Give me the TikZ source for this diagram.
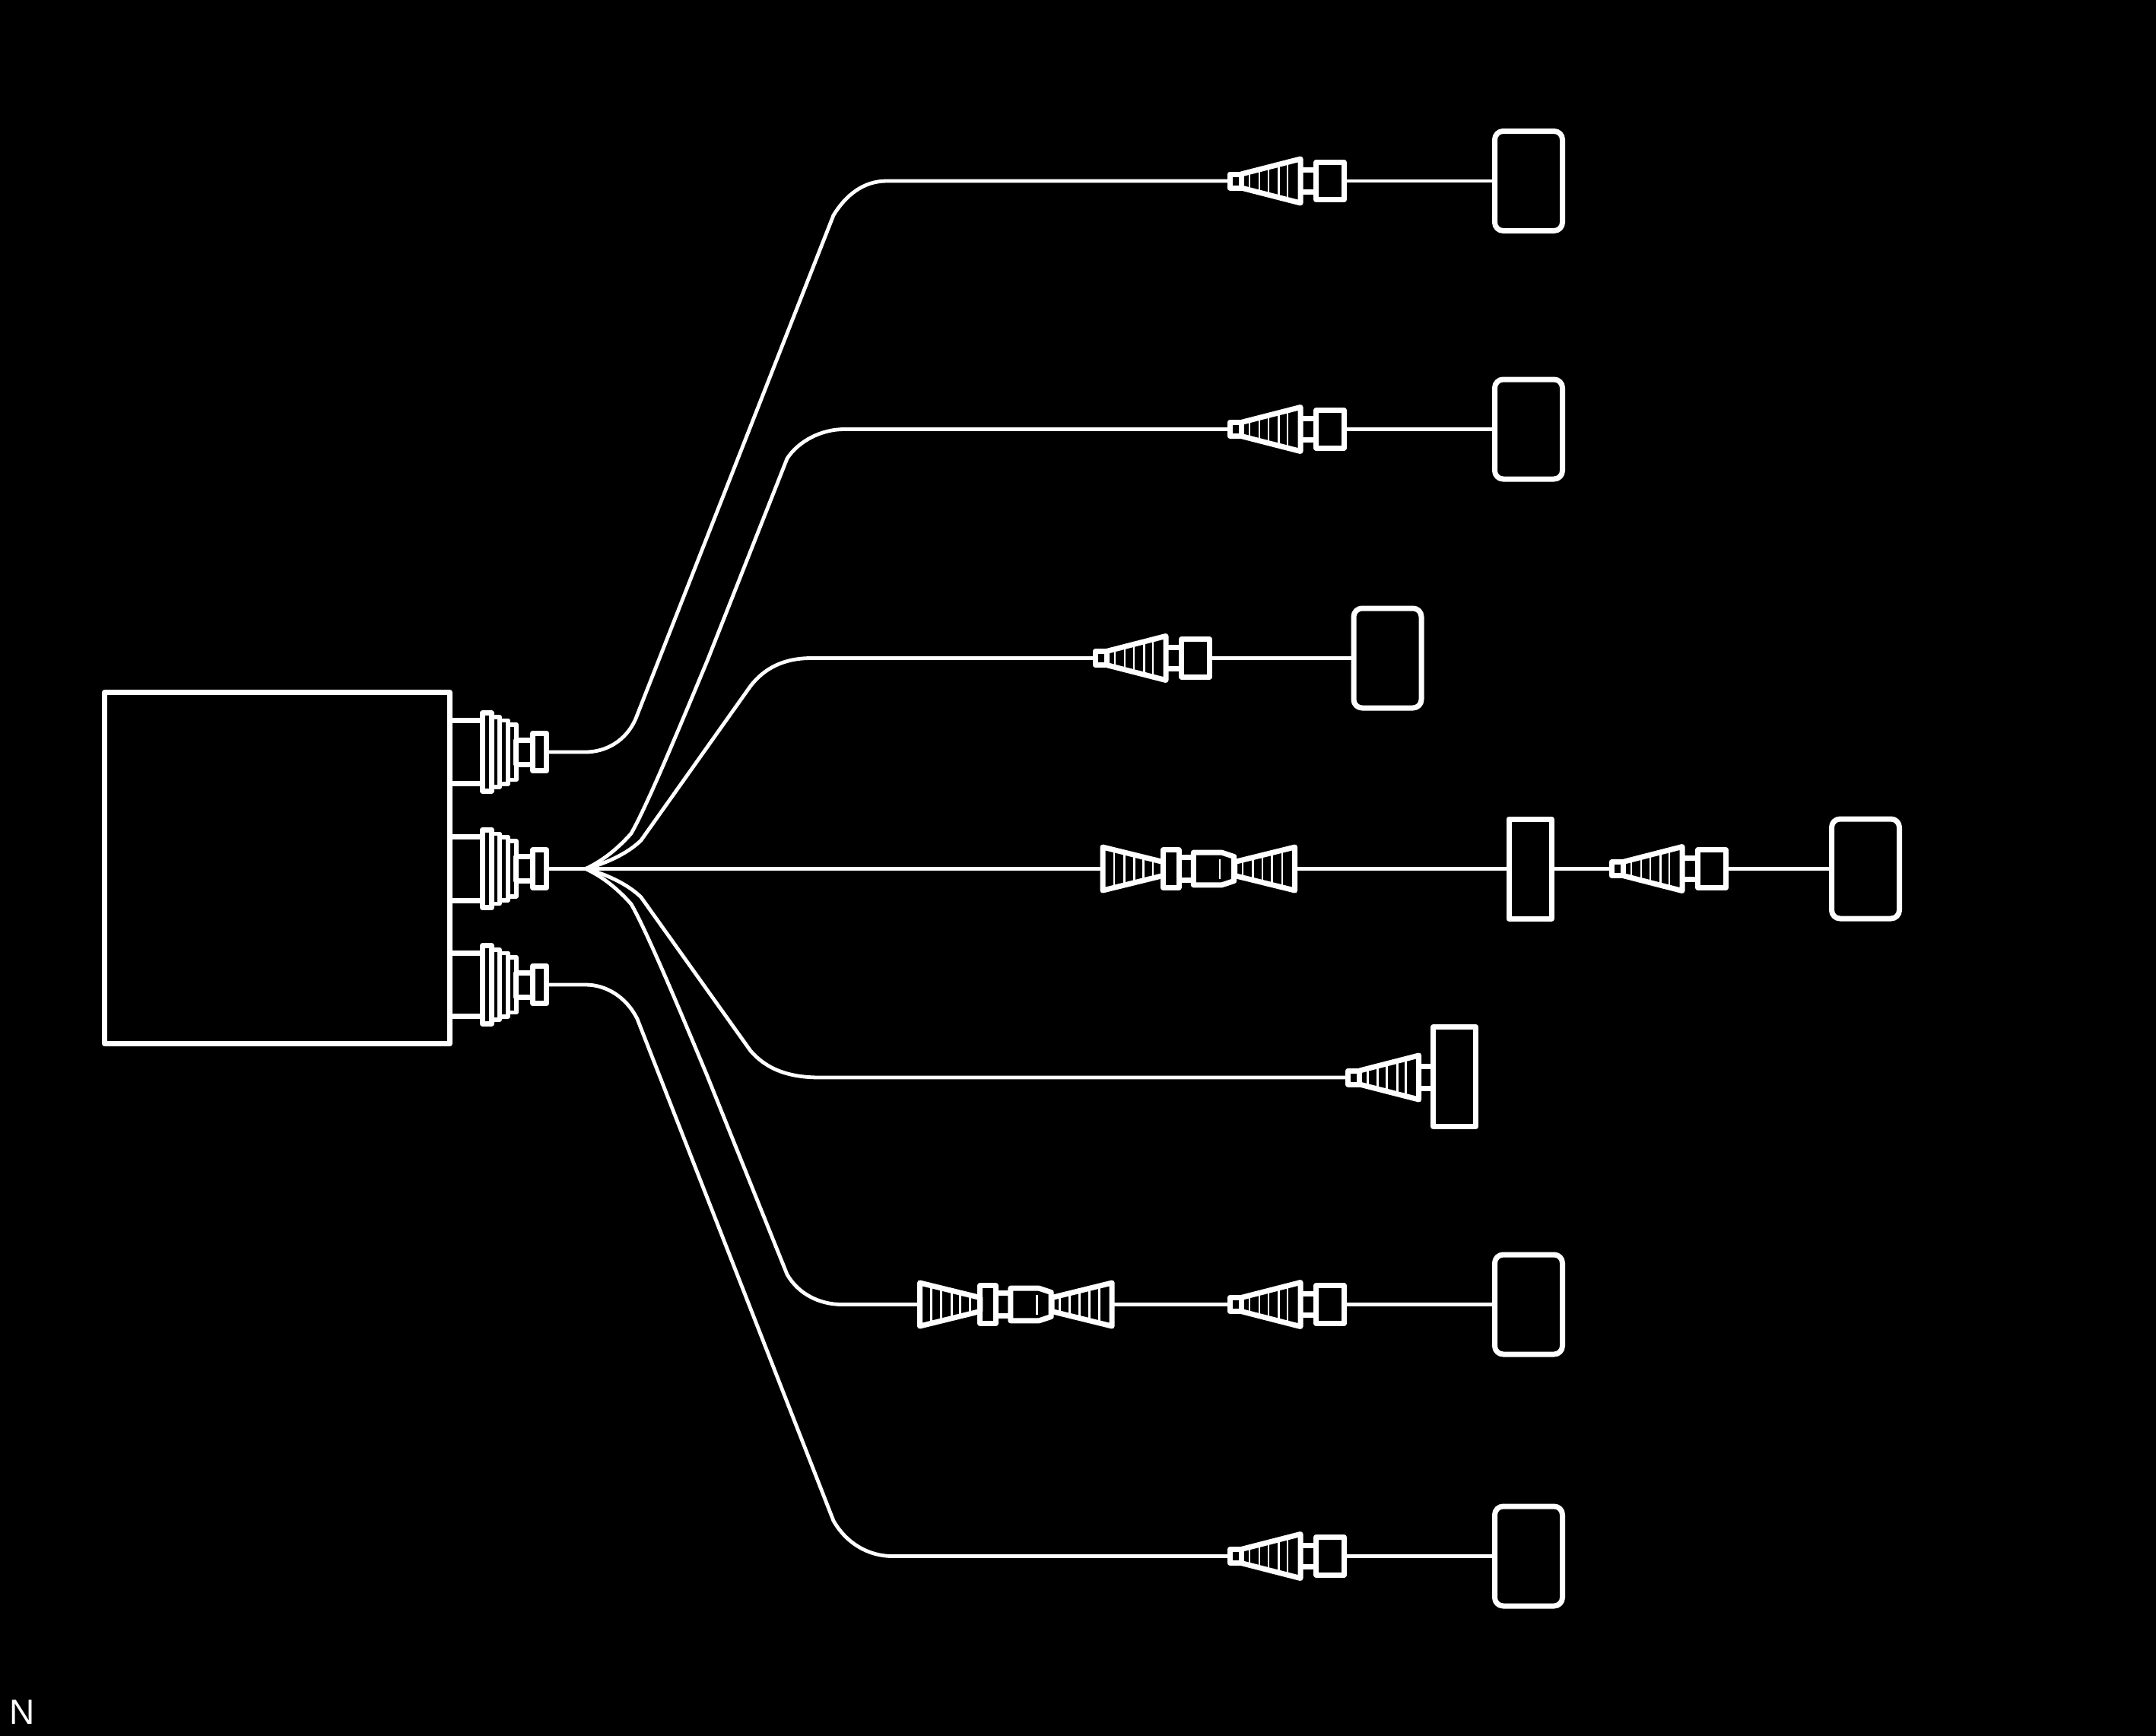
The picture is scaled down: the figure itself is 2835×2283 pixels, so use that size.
\documentclass[tikz,border=0pt]{standalone}
\usepackage{fontspec}
\setmainfont{Liberation Sans}
\tikzset{
  outl/.style={draw=white,line width=7pt,line join=round},
  thinl/.style={draw=white,line width=5.6pt,line join=round},
  rung/.style={draw=white,line width=2.9pt},
  wire/.style={draw=white,line width=4.8pt},
  endbox/.style={outl,rectangle,rounded corners=11pt,minimum width=89pt,minimum height=131pt,inner sep=0pt},
  inbox/.style={outl,rectangle,minimum width=56pt,minimum height=131pt,inner sep=0pt},
  mainbox/.style={outl,rectangle,minimum width=453.5pt,minimum height=462.5pt,inner sep=0pt},
  portconn/.pic={
    \coordinate (-r) at (127.3,0);
    \draw[outl] (0,-41.7) -- (43,-41.7) (0,41.7) -- (43,41.7);
    \draw[thinl] (55,-46) rectangle (65.5,46);
    \draw[thinl] (65.5,-41.7) rectangle (76.5,41.7);
    \draw[thinl] (76.5,-36.3) rectangle (87.3,36.3);
    \draw[outl] (43,-51.3) rectangle (55,51.3);
    \draw[outl] (87.3,-16) rectangle (109,16);
    \draw[outl] (109,-24.7) rectangle (127.3,24.7);
  },
  cone/.pic={
    \coordinate (-l) at (0,0);
    \coordinate (-r) at (150.3,0);
    \draw[outl] (0,-9) rectangle (15,9);
    \draw[outl] (15,-9) -- (93,-29) -- (93,29) -- (15,9);
    \foreach \u/\h in {26/12.4,39/15.6,51/18.6,64.7/22,76/24.8}
      \draw[rung] (\u,-\h) -- (\u,\h);
    \draw[outl] (93,-14.2) -- (113.7,-14.2) (93,14.2) -- (113.7,14.2);
    \draw[outl] (113.7,-24.7) rectangle (150.3,24.7);
  },
  conestub/.pic={
    \coordinate (-l) at (0,0);
    \draw[outl] (0,-9) rectangle (15,9);
    \draw[outl] (15,-9) -- (93,-29) -- (93,29) -- (15,9);
    \foreach \u/\h in {26/12.4,39/15.6,51/18.6,64.7/22,76/24.8}
      \draw[rung] (\u,-\h) -- (\u,\h);
    \draw[outl] (93,-14.2) -- (113,-14.2) (93,14.2) -- (113,14.2);
  },
  bowtie/.pic={
    \coordinate (-l) at (0,0);
    \coordinate (-r) at (252.7,0);
    \draw[outl] (0,-28.5) -- (79.3,-9) -- (79.3,9) -- (0,28.5) -- cycle;
    \foreach \u/\h in {15/24.8,28.3/21.6,41.7/18.4,53.3/15.5,66/12.4}
      \draw[rung] (\u,-\h) -- (\u,\h);
    \draw[outl] (79.3,-24.7) rectangle (100,24.7);
    \draw[outl] (100,-15) -- (119.3,-15) (100,15) -- (119.3,15);
    \draw[outl] (119.3,-21.3) -- (156.7,-21.3) -- (172.7,-16) -- (172.7,16) -- (156.7,21.3) -- (119.3,21.3) -- cycle;
    \draw[rung] (154,-13) -- (154,13);
    \draw[outl] (252.7,-28.5) -- (173.5,-9) -- (173.5,9) -- (252.7,28.5) -- cycle;
    \foreach \u/\h in {184/12,197.3/15.2,210/18.4,222.7/21.5,236/24.8}
      \draw[rung] (\u,-\h) -- (\u,\h);
  },
}
\begin{document}
\begin{tikzpicture}[x=1pt,y=-1pt]
\useasboundingbox (0,0) rectangle (2835,2283);
\fill[black] (0,0) rectangle (2835,2283);

% main unit and its three ports
\node[mainbox] (unit) at (364.7,1141.7) {};
\pic (pa) at (591.5,989) {portconn};
\pic (pb) at (591.5,1142.5) {portconn};
\pic (pc) at (591.5,1295) {portconn};

% connectors along the branches
\pic (c1) at (1617,238) {cone};
\pic (c2) at (1617,564.5) {cone};
\pic (c3) at (1440,865.5) {cone};
\pic (bw) at (1450,1142.5) {bowtie};
\pic (c4) at (2119,1142.5) {cone};
\pic (c5) at (1772.7,1417) {conestub};
\pic (bx) at (1209.5,1715.5) {bowtie};
\pic (c6) at (1617,1715.5) {cone};
\pic (c7) at (1617,2046.5) {cone};

% end boxes
\node[endbox] (e1) at (2010,238) {};
\node[endbox] (e2) at (2010,564.5) {};
\node[endbox] (e3) at (1824.5,865.5) {};
\node[inbox] (m4) at (2012,1142.5) {};
\node[endbox] (e4) at (2453,1142.5) {};
\node[inbox] (e5) at (1912.8,1416) {};
\node[endbox] (e6) at (2010,1715.5) {};
\node[endbox] (e7) at (2010,2046.5) {};

% junction of the fan
\coordinate (fan) at (770,1142.5);

% wires
\draw[wire] (pa-r) -- (770,989) .. controls (796,989) and (823,975) .. (836,945)
  -- (1096,283) .. controls (1112,257) and (1135,238) .. (1166,238) -- (c1-l);
\draw[wire] (c1-r) -- (e1.west);

\draw[wire] (pb-r) -- (fan) .. controls (795,1131) and (815,1113) .. (830,1096)
  .. controls (850,1061) and (890,965) .. (930,869) -- (1035,603)
  .. controls (1050,580) and (1080,564.5) .. (1110,564.5) -- (c2-l);
\draw[wire] (c2-r) -- (e2.west);

\draw[wire] (fan) .. controls (795,1136) and (825,1123) .. (843,1105) -- (987,902)
  .. controls (1005,879) and (1030,865.5) .. (1067,865.5) -- (c3-l);
\draw[wire] (c3-r) -- (e3.west);

\draw[wire] (fan) -- (bw-l);
\draw[wire] (bw-r) -- (m4.west);
\draw[wire] (m4.east) -- (c4-l);
\draw[wire] (c4-r) -- (e4.west);

\draw[wire] (fan) .. controls (795,1149) and (825,1162) .. (843,1180) -- (987,1382)
  .. controls (1007,1405) and (1035,1417) .. (1078,1417) -- (c5-l);

\draw[wire] (fan) .. controls (795,1154) and (815,1172) .. (830,1189)
  .. controls (850,1224) and (890,1319) .. (930,1415) -- (1035,1676)
  .. controls (1050,1702) and (1078,1715.5) .. (1107,1715.5) -- (bx-l);
\draw[wire] (bx-r) -- (c6-l);
\draw[wire] (c6-r) -- (e6.west);

\draw[wire] (pc-r) -- (770,1295) .. controls (796,1295) and (823,1310) .. (838,1340)
  -- (1096,2000) .. controls (1112,2028) and (1140,2046.5) .. (1174,2046.5) -- (c7-l);
\draw[wire] (c7-r) -- (e7.west);

\node[anchor=base west,inner sep=0pt,text=white,font=\fontsize{46}{50}\selectfont] (lbl) at (12.6,2267.5) {N};
\end{tikzpicture}
\end{document}
